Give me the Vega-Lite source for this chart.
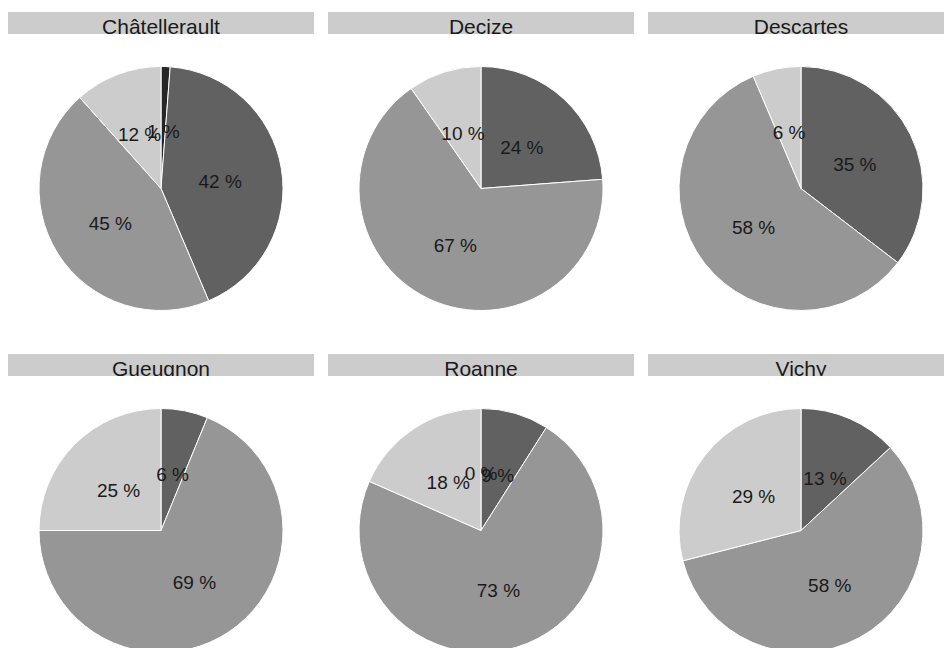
{
  "$schema": "https://vega.github.io/schema/vega-lite/v6.json",
  "padding": {"left": 8, "top": 12, "right": 0, "bottom": 0},
  "background": "white",
  "config": {"view": {"stroke": null}},
  "datasets": {
    "shares": [
      {"city": "Châtellerault", "cat": "A", "value": 1.2, "label": "1 %"},
      {"city": "Châtellerault", "cat": "B", "value": 42.4, "label": "42 %"},
      {"city": "Châtellerault", "cat": "C", "value": 44.8, "label": "45 %"},
      {"city": "Châtellerault", "cat": "D", "value": 11.6, "label": "12 %"},
      {"city": "Decize", "cat": "B", "value": 23.8, "label": "24 %"},
      {"city": "Decize", "cat": "C", "value": 66.5, "label": "67 %"},
      {"city": "Decize", "cat": "D", "value": 9.7, "label": "10 %"},
      {"city": "Descartes", "cat": "B", "value": 35.4, "label": "35 %"},
      {"city": "Descartes", "cat": "C", "value": 58.2, "label": "58 %"},
      {"city": "Descartes", "cat": "D", "value": 6.4, "label": "6 %"},
      {"city": "Gueugnon", "cat": "B", "value": 6.2, "label": "6 %"},
      {"city": "Gueugnon", "cat": "C", "value": 68.8, "label": "69 %"},
      {"city": "Gueugnon", "cat": "D", "value": 25.0, "label": "25 %"},
      {"city": "Roanne", "cat": "A", "value": 0, "label": "0 %"},
      {"city": "Roanne", "cat": "B", "value": 9.0, "label": "9 %"},
      {"city": "Roanne", "cat": "C", "value": 72.6, "label": "73 %"},
      {"city": "Roanne", "cat": "D", "value": 18.4, "label": "18 %"},
      {"city": "Vichy", "cat": "B", "value": 13.1, "label": "13 %"},
      {"city": "Vichy", "cat": "C", "value": 57.9, "label": "58 %"},
      {"city": "Vichy", "cat": "D", "value": 29.0, "label": "29 %"}
    ]
  },
  "spacing": 11,
  "vconcat": [
    {
      "spacing": 14,
      "hconcat": [
        {
          "spacing": 0,
          "vconcat": [
            {
              "data": {"name": "shares"},
              "transform": [{"filter": {"field": "city", "equal": "Châtellerault"}}, {"aggregate": [{"op": "count", "as": "n"}], "groupby": ["city"]}],
              "width": 306, "height": 22,
              "layer": [
                {"mark": {"type": "rect", "color": "#cccccc"}, "encoding": {}},
                {"mark": {"type": "text", "font": "Liberation Sans", "fontSize": 21, "color": "#1a1a1a", "baseline": "alphabetic", "dy": 10.5, "clip": true}, "encoding": {"text": {"field": "city"}}}
              ]
            },
            {
              "data": {"name": "shares"},
              "transform": [{"filter": {"field": "city", "equal": "Châtellerault"}}],
              "width": 306, "height": 309,
              "encoding": {"theta": {"field": "value", "type": "quantitative", "stack": true}, "order": {"field": "cat", "type": "ordinal", "sort": "ascending"}},
              "layer": [
                {"mark": {"type": "arc", "outerRadius": 122, "stroke": "white", "strokeWidth": 1}, "encoding": {"color": {"field": "cat", "type": "nominal", "scale": {"domain": ["A", "B", "C", "D"], "range": ["#262626", "#616161", "#969696", "#cccccc"]}, "legend": null}}},
                {"mark": {"type": "text", "radius": 60, "dy": 3, "font": "Liberation Sans", "fontSize": 19, "color": "#1a1a1a"}, "encoding": {"text": {"field": "label"}}}
              ]
            }
          ]
        },
        {
          "spacing": 0,
          "vconcat": [
            {
              "data": {"name": "shares"},
              "transform": [{"filter": {"field": "city", "equal": "Decize"}}, {"aggregate": [{"op": "count", "as": "n"}], "groupby": ["city"]}],
              "width": 306, "height": 22,
              "layer": [
                {"mark": {"type": "rect", "color": "#cccccc"}, "encoding": {}},
                {"mark": {"type": "text", "font": "Liberation Sans", "fontSize": 21, "color": "#1a1a1a", "baseline": "alphabetic", "dy": 10.5, "clip": true}, "encoding": {"text": {"field": "city"}}}
              ]
            },
            {
              "data": {"name": "shares"},
              "transform": [{"filter": {"field": "city", "equal": "Decize"}}],
              "width": 306, "height": 309,
              "encoding": {"theta": {"field": "value", "type": "quantitative", "stack": true}, "order": {"field": "cat", "type": "ordinal", "sort": "ascending"}},
              "layer": [
                {"mark": {"type": "arc", "outerRadius": 122, "stroke": "white", "strokeWidth": 1}, "encoding": {"color": {"field": "cat", "type": "nominal", "scale": {"domain": ["A", "B", "C", "D"], "range": ["#262626", "#616161", "#969696", "#cccccc"]}, "legend": null}}},
                {"mark": {"type": "text", "radius": 60, "dy": 3, "font": "Liberation Sans", "fontSize": 19, "color": "#1a1a1a"}, "encoding": {"text": {"field": "label"}}}
              ]
            }
          ]
        },
        {
          "spacing": 0,
          "vconcat": [
            {
              "data": {"name": "shares"},
              "transform": [{"filter": {"field": "city", "equal": "Descartes"}}, {"aggregate": [{"op": "count", "as": "n"}], "groupby": ["city"]}],
              "width": 306, "height": 22,
              "layer": [
                {"mark": {"type": "rect", "color": "#cccccc"}, "encoding": {}},
                {"mark": {"type": "text", "font": "Liberation Sans", "fontSize": 21, "color": "#1a1a1a", "baseline": "alphabetic", "dy": 10.5, "clip": true}, "encoding": {"text": {"field": "city"}}}
              ]
            },
            {
              "data": {"name": "shares"},
              "transform": [{"filter": {"field": "city", "equal": "Descartes"}}],
              "width": 306, "height": 309,
              "encoding": {"theta": {"field": "value", "type": "quantitative", "stack": true}, "order": {"field": "cat", "type": "ordinal", "sort": "ascending"}},
              "layer": [
                {"mark": {"type": "arc", "outerRadius": 122, "stroke": "white", "strokeWidth": 1}, "encoding": {"color": {"field": "cat", "type": "nominal", "scale": {"domain": ["A", "B", "C", "D"], "range": ["#262626", "#616161", "#969696", "#cccccc"]}, "legend": null}}},
                {"mark": {"type": "text", "radius": 60, "dy": 3, "font": "Liberation Sans", "fontSize": 19, "color": "#1a1a1a"}, "encoding": {"text": {"field": "label"}}}
              ]
            }
          ]
        }
      ]
    },
    {
      "spacing": 14,
      "hconcat": [
        {
          "spacing": 0,
          "vconcat": [
            {
              "data": {"name": "shares"},
              "transform": [{"filter": {"field": "city", "equal": "Gueugnon"}}, {"aggregate": [{"op": "count", "as": "n"}], "groupby": ["city"]}],
              "width": 306, "height": 22,
              "layer": [
                {"mark": {"type": "rect", "color": "#cccccc"}, "encoding": {}},
                {"mark": {"type": "text", "font": "Liberation Sans", "fontSize": 21, "color": "#1a1a1a", "baseline": "alphabetic", "dy": 10.5, "clip": true}, "encoding": {"text": {"field": "city"}}}
              ]
            },
            {
              "data": {"name": "shares"},
              "transform": [{"filter": {"field": "city", "equal": "Gueugnon"}}],
              "width": 306, "height": 309,
              "encoding": {"theta": {"field": "value", "type": "quantitative", "stack": true}, "order": {"field": "cat", "type": "ordinal", "sort": "ascending"}},
              "layer": [
                {"mark": {"type": "arc", "outerRadius": 122, "stroke": "white", "strokeWidth": 1}, "encoding": {"color": {"field": "cat", "type": "nominal", "scale": {"domain": ["A", "B", "C", "D"], "range": ["#262626", "#616161", "#969696", "#cccccc"]}, "legend": null}}},
                {"mark": {"type": "text", "radius": 60, "dy": 3, "font": "Liberation Sans", "fontSize": 19, "color": "#1a1a1a"}, "encoding": {"text": {"field": "label"}}}
              ]
            }
          ]
        },
        {
          "spacing": 0,
          "vconcat": [
            {
              "data": {"name": "shares"},
              "transform": [{"filter": {"field": "city", "equal": "Roanne"}}, {"aggregate": [{"op": "count", "as": "n"}], "groupby": ["city"]}],
              "width": 306, "height": 22,
              "layer": [
                {"mark": {"type": "rect", "color": "#cccccc"}, "encoding": {}},
                {"mark": {"type": "text", "font": "Liberation Sans", "fontSize": 21, "color": "#1a1a1a", "baseline": "alphabetic", "dy": 10.5, "clip": true}, "encoding": {"text": {"field": "city"}}}
              ]
            },
            {
              "data": {"name": "shares"},
              "transform": [{"filter": {"field": "city", "equal": "Roanne"}}],
              "width": 306, "height": 309,
              "encoding": {"theta": {"field": "value", "type": "quantitative", "stack": true}, "order": {"field": "cat", "type": "ordinal", "sort": "ascending"}},
              "layer": [
                {"mark": {"type": "arc", "outerRadius": 122, "stroke": "white", "strokeWidth": 1}, "encoding": {"color": {"field": "cat", "type": "nominal", "scale": {"domain": ["A", "B", "C", "D"], "range": ["#262626", "#616161", "#969696", "#cccccc"]}, "legend": null}}},
                {"mark": {"type": "text", "radius": 60, "dy": 3, "font": "Liberation Sans", "fontSize": 19, "color": "#1a1a1a"}, "encoding": {"text": {"field": "label"}}}
              ]
            }
          ]
        },
        {
          "spacing": 0,
          "vconcat": [
            {
              "data": {"name": "shares"},
              "transform": [{"filter": {"field": "city", "equal": "Vichy"}}, {"aggregate": [{"op": "count", "as": "n"}], "groupby": ["city"]}],
              "width": 306, "height": 22,
              "layer": [
                {"mark": {"type": "rect", "color": "#cccccc"}, "encoding": {}},
                {"mark": {"type": "text", "font": "Liberation Sans", "fontSize": 21, "color": "#1a1a1a", "baseline": "alphabetic", "dy": 10.5, "clip": true}, "encoding": {"text": {"field": "city"}}}
              ]
            },
            {
              "data": {"name": "shares"},
              "transform": [{"filter": {"field": "city", "equal": "Vichy"}}],
              "width": 306, "height": 309,
              "encoding": {"theta": {"field": "value", "type": "quantitative", "stack": true}, "order": {"field": "cat", "type": "ordinal", "sort": "ascending"}},
              "layer": [
                {"mark": {"type": "arc", "outerRadius": 122, "stroke": "white", "strokeWidth": 1}, "encoding": {"color": {"field": "cat", "type": "nominal", "scale": {"domain": ["A", "B", "C", "D"], "range": ["#262626", "#616161", "#969696", "#cccccc"]}, "legend": null}}},
                {"mark": {"type": "text", "radius": 60, "dy": 3, "font": "Liberation Sans", "fontSize": 19, "color": "#1a1a1a"}, "encoding": {"text": {"field": "label"}}}
              ]
            }
          ]
        }
      ]
    }
  ]
}
